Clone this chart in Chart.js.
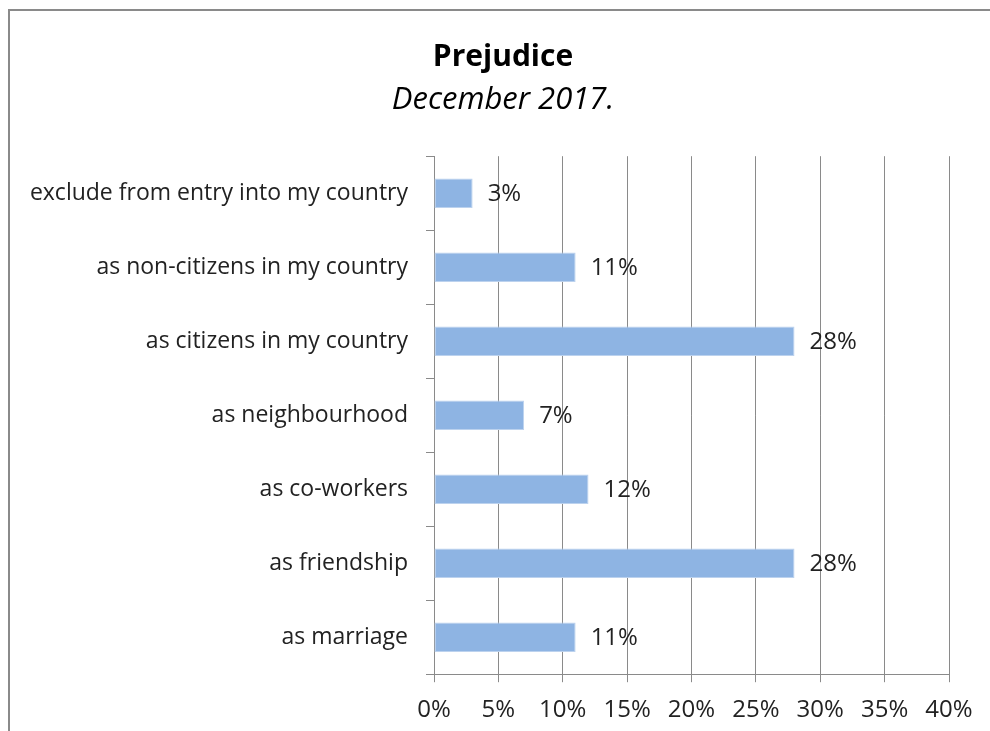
<!DOCTYPE html>
<html>
<head>
<meta charset="utf-8">
<script src="https://cdn.jsdelivr.net/npm/chart.js@4/dist/chart.umd.min.js"></script>
<style>
  body { margin: 0; background: #fff; }
  #wrap { position: relative; width: 990px; height: 731px; overflow: hidden; }
  #frame { position: absolute; left: 8px; top: 9px; width: 1000px; height: 800px; border: 2px solid #8a8a8a; pointer-events: none; }
  canvas { position: absolute; left: 0; top: 0; }
</style>
</head>
<body>
<div id="wrap">
  <canvas id="prejudice" width="1006" height="731"></canvas>
  <div id="frame"></div>
</div>
<script>
const categories = [
    'exclude from entry into my country',
    'as non-citizens in my country',
    'as citizens in my country',
    'as neighbourhood',
    'as co-workers',
    'as friendship',
    'as marriage'
];
const values = [3, 11, 28, 7, 12, 28, 11];
const tickMax = 40;
const tickStep = 5;

const fontFamily = "'Open Sans', 'DejaVu Sans', sans-serif";

// draws the "28%" style labels right of each bar
const valueLabels = {
    id: 'valueLabels',
    afterDatasetsDraw(chart) {
        const ctx = chart.ctx;
        const meta = chart.getDatasetMeta(0);
        ctx.save();
        ctx.font = '24px ' + fontFamily;
        ctx.fillStyle = '#222';
        ctx.textAlign = 'left';
        ctx.textBaseline = 'middle';
        meta.data.forEach((bar, i) => {
            ctx.fillText(values[i] + '%', bar.x + 15, bar.y + 1);
        });
        ctx.restore();
    }
};

const ctx = document.getElementById('prejudice');

new Chart(ctx, {
    type: 'bar',
    data: {
        labels: categories,
        datasets: [{
            label: 'Prejudice',
            data: values,
            backgroundColor: '#8eb4e3',
            borderColor: '#bcd2ee',
            borderWidth: 1,
            borderSkipped: false,
            categoryPercentage: 1,
            barPercentage: 0.4
        }]
    },
    options: {
        indexAxis: 'y',
        responsive: false,
        animation: false,
        layout: {
            padding: { left: 0, right: 0, bottom: -8, top: 0 }
        },
        plugins: {
            legend: { display: false },
            tooltip: { enabled: false },
            title: {
                display: true,
                text: 'Prejudice',
                color: '#000',
                font: { family: fontFamily, size: 30, weight: 'bold' },
                padding: { top: 39, bottom: 3 }
            },
            subtitle: {
                display: true,
                text: 'December 2017.',
                color: '#000',
                font: { family: fontFamily, size: 31, style: 'italic', weight: 'normal' },
                padding: { top: 4, bottom: 37 }
            }
        },
        scales: {
            x: {
                min: 0,
                max: tickMax,
                ticks: {
                    stepSize: tickStep,
                    color: '#222',
                    padding: 14,
                    font: { family: fontFamily, size: 24 },
                    callback: v => v + '%'
                },
                grid: {
                    color: '#8a8a8a',
                    lineWidth: 1,
                    tickLength: 8
                },
                border: { color: '#8a8a8a', width: 1 }
            },
            y: {
                afterFit(scale) { scale.width = 434; },
                ticks: {
                    color: '#222',
                    padding: 18,
                    font: { family: fontFamily, size: 23 }
                },
                grid: {
                    drawOnChartArea: false,
                    color: '#8a8a8a',
                    tickLength: 8,
                    offset: true
                },
                border: { color: '#8a8a8a', width: 1 }
            },
            // empty right-hand space so the plot ends at the 40% line
            spacer: {
                type: 'category',
                labels: categories,
                position: 'right',
                afterFit(scale) { scale.width = 57; },
                ticks: { display: false },
                grid: { display: false },
                border: { display: false }
            }
        }
    },
    plugins: [valueLabels]
});
</script>
</body>
</html>
